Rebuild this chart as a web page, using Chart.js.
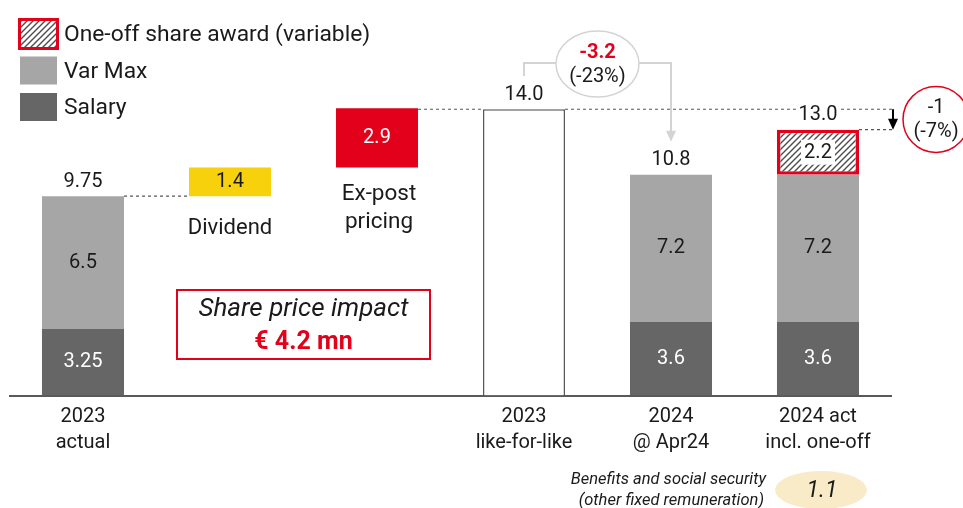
<!DOCTYPE html>
<html>
<head>
<meta charset="utf-8">
<script src="https://cdn.jsdelivr.net/npm/chart.js@4"></script>
<style>
  html, body { margin: 0; padding: 0; background: #fff; }
</style>
</head>
<body>
<canvas id="myChart" width="963" height="508"></canvas>
<script>
// categories on the x axis (bridge steps have no axis label)
const categories = [['2023', 'actual'], '', '', ['2023', 'like-for-like'], ['2024', '@ Apr24'], ['2024 act', 'incl. one-off']];
const salary = [3.25, null, null, null, 3.6, 3.6];
const varMax = [6.5, null, null, null, 7.2, 7.2];
const oneOff = [null, null, null, null, null, 2.2];
const dividend = 1.4;
const expostPricing = 2.9;
const likeForLike = 14.0;
const totals = [9.75, null, null, 14.0, 10.8, 13.0];
const bigDrop = ['-3.2', '(-23%)'];
const smallDrop = ['-1', '(-7%)'];
const sharePriceImpact = '€ 4.2 mn';
const benefits = 1.1;

const FONT = 'Roboto, "Noto Sans", sans-serif';
const RED = '#E2001A';
const DARK = '#666666';
const LIGHT = '#A6A6A6';
const YELLOW = '#F6D10C';
const INK = '#1a1a1a';

const ctx = document.getElementById('myChart').getContext('2d');

function makeHatch() {
    const c = document.createElement('canvas');
    c.width = 6; c.height = 6;
    const g = c.getContext('2d');
    g.fillStyle = '#fff';
    g.fillRect(0, 0, 6, 6);
    g.strokeStyle = '#4d4d4d';
    g.lineWidth = 1.4;
    g.beginPath();
    g.moveTo(0, 6); g.lineTo(6, 0);
    g.moveTo(-3, 3); g.lineTo(3, -3);
    g.moveTo(3, 9); g.lineTo(9, 3);
    g.stroke();
    return ctx.createPattern(c, 'repeat');
}
const hatch = makeHatch();

// floating steps: dividend, ex-post pricing, then the like-for-like total
const divTop = totals[0] + dividend;
const bridge = [null, [totals[0], divTop], [divTop, divTop + expostPricing], [0, likeForLike], null, null];

function text(c, str, x, y, font, color, align) {
    c.font = font;
    c.fillStyle = color;
    c.textAlign = align || 'center';
    c.textBaseline = 'middle';
    c.fillText(str, x, y);
}

function dashed(c, x1, x2, y) {
    c.save();
    c.strokeStyle = '#555';
    c.lineWidth = 1.2;
    c.setLineDash([3, 3]);
    c.beginPath();
    c.moveTo(x1, y); c.lineTo(x2, y);
    c.stroke();
    c.restore();
}

function bar(chart, ds, i) {
    return chart.getDatasetMeta(ds).data[i].getProps(['x', 'y', 'base', 'width'], true);
}

const labelsPlugin = {
    id: 'labels',
    afterDatasetsDraw(chart) {
        const c = chart.ctx;
        const x = chart.scales.x, y = chart.scales.y;
        const f = size => size + 'px ' + FONT;

        const o = bar(chart, 3, 5);
        const yLfl = y.getPixelForValue(likeForLike);
        const yAct = y.getPixelForValue(totals[5]);
        const arrowX = o.x + o.width / 2 + 34;
        const l = bar(chart, 0, 3);
        const e = bar(chart, 0, 2);

        // dashed connectors (under the labels)
        const b0 = bar(chart, 2, 0);
        const d = bar(chart, 0, 1);
        dashed(c, b0.x + b0.width / 2, d.x - d.width / 2, y.getPixelForValue(totals[0]));
        dashed(c, e.x + e.width / 2, l.x - l.width / 2, yLfl);
        dashed(c, l.x + l.width / 2, arrowX, yLfl);
        dashed(c, o.x + o.width / 2, arrowX, yAct);

        // totals above the stacks
        totals.forEach((t, i) => {
            if (t === null) return;
            const top = y.getPixelForValue(t);
            const px = x.getPixelForValue(i);
            if (i === 5) {
                c.fillStyle = '#fff';
                c.fillRect(px - 22, top - 25, 44, 20);
            }
            text(c, i === 0 ? '9.75' : t.toFixed(1), px, top - 14.5, f(20), INK);
        });

        // values inside segments
        [1, 2].forEach(ds => {
            const data = ds === 1 ? salary : varMax;
            data.forEach((v, i) => {
                if (v === null) return;
                const b = bar(chart, ds, i);
                text(c, String(v), b.x, (b.y + b.base) / 2, f(20), ds === 1 ? '#fff' : INK);
            });
        });

        // one-off label on white plate
        const oy = (o.y + o.base) / 2;
        c.fillStyle = '#fff';
        c.fillRect(o.x - 17, oy - 12.5, 34, 25);
        text(c, String(oneOff[5]), o.x, oy + 0.5, f(20), INK);

        // bridge boxes
        text(c, String(dividend), d.x, (d.y + d.base) / 2, f(20), INK);
        text(c, 'Dividend', d.x, d.base + 32, f(22), INK);
        text(c, String(expostPricing), e.x, (e.y + e.base) / 2, f(20), '#fff');
        text(c, 'Ex-post', e.x + 2, e.base + 27, f(22.5), INK);
        text(c, 'pricing', e.x + 2, e.base + 55, f(22.5), INK);
    },
    afterDraw(chart) {
        const c = chart.ctx;
        const x = chart.scales.x, y = chart.scales.y;
        const f = size => size + 'px ' + FONT;

        const o = bar(chart, 3, 5);
        const yLfl = y.getPixelForValue(likeForLike);
        const yAct = y.getPixelForValue(totals[5]);
        const arrowX = o.x + o.width / 2 + 34;

        // small black arrow
        c.save();
        c.strokeStyle = '#000';
        c.fillStyle = '#000';
        c.lineWidth = 2;
        c.beginPath();
        c.moveTo(arrowX, yLfl); c.lineTo(arrowX, yAct - 8);
        c.stroke();
        c.beginPath();
        c.moveTo(arrowX - 5, yAct - 11); c.lineTo(arrowX + 5, yAct - 11); c.lineTo(arrowX, yAct);
        c.closePath();
        c.fill();
        c.restore();

        // red circle with the small drop
        const cy = (yLfl + yAct) / 2;
        c.save();
        c.strokeStyle = RED;
        c.lineWidth = 1.5;
        c.fillStyle = '#fff';
        c.beginPath();
        c.arc(arrowX + 43, cy, 33, 0, Math.PI * 2);
        c.fill();
        c.stroke();
        c.restore();
        text(c, smallDrop[0], arrowX + 43, cy - 11, f(20), INK);
        text(c, smallDrop[1], arrowX + 43, cy + 13, f(20), INK);

        // grey bracket from like-for-like down to 2024
        const x3 = x.getPixelForValue(3), x4 = x.getPixelForValue(4);
        const ex = (x3 + x4) / 2, ey = 64;
        const tipY = y.getPixelForValue(totals[4]) - 33;
        c.save();
        c.strokeStyle = '#D4D4D4';
        c.fillStyle = '#D4D4D4';
        c.lineWidth = 2;
        c.beginPath();
        c.moveTo(x3, 76); c.lineTo(x3, 63); c.lineTo(ex - 40, 63);
        c.moveTo(ex + 40, 63); c.lineTo(x4, 63); c.lineTo(x4, tipY - 10);
        c.stroke();
        c.beginPath();
        c.moveTo(x4 - 5, tipY - 11); c.lineTo(x4 + 5, tipY - 11); c.lineTo(x4, tipY);
        c.closePath();
        c.fill();
        c.lineWidth = 1.5;
        c.fillStyle = '#fff';
        c.beginPath();
        c.ellipse(ex, ey, 41.5, 33, 0, 0, Math.PI * 2);
        c.fill();
        c.stroke();
        c.restore();
        text(c, bigDrop[0], ex, ey - 11, 'bold ' + f(20), RED);
        text(c, bigDrop[1], ex, ey + 13, f(20), INK);

        // share price impact box
        const sx = (x.getPixelForValue(1) + x.getPixelForValue(2)) / 2;
        c.save();
        c.strokeStyle = RED;
        c.lineWidth = 2;
        c.strokeRect(sx - 126.5, 290, 253, 69);
        c.restore();
        text(c, 'Share price impact', sx, 309, 'italic ' + f(26), INK);
        text(c, sharePriceImpact, sx, 343, 'bold ' + f(25), RED);

        // benefits note
        text(c, 'Benefits and social security', 766, 480, 'italic ' + f(16.5), INK, 'right');
        text(c, '(other fixed remuneration)', 764, 501, 'italic ' + f(16.5), INK, 'right');
        c.save();
        c.fillStyle = '#FAEBC8';
        c.beginPath();
        c.ellipse(821, 490, 46, 19, 0, 0, Math.PI * 2);
        c.fill();
        c.restore();
        text(c, benefits.toFixed(1), 822, 491, 'italic ' + f(23), INK);

        // legend
        const items = [
            { label: chart.data.datasets[3].label, fill: hatch, border: RED },
            { label: chart.data.datasets[2].label, fill: LIGHT },
            { label: chart.data.datasets[1].label, fill: DARK }
        ];
        items.forEach((it, k) => {
            const top = 20 + k * 36.5;
            c.fillStyle = it.fill;
            c.fillRect(20, top, 37, 28);
            if (it.border) {
                c.save();
                c.strokeStyle = it.border;
                c.lineWidth = 3;
                c.strokeRect(19.5, top - 0.5, 38, 29);
                c.restore();
            }
            text(c, it.label, 64, top + 15.5, f(22.8), INK, 'left');
        });
    }
};

const myChart = new Chart(ctx, {
    type: 'bar',
    data: {
        labels: categories,
        datasets: [
            {
                label: 'Bridge',
                data: bridge,
                backgroundColor: ['#fff', YELLOW, RED, '#fff', '#fff', '#fff'],
                borderColor: ['#fff', YELLOW, RED, '#595959', '#fff', '#fff'],
                borderWidth: [0, 0, 0, 1.5, 0, 0],
                borderSkipped: 'bottom'
            },
            { label: 'Salary', data: salary, backgroundColor: DARK },
            { label: 'Var Max', data: varMax, backgroundColor: LIGHT },
            {
                label: 'One-off share award (variable)',
                data: oneOff,
                backgroundColor: hatch,
                borderColor: RED,
                borderWidth: 3.5,
                borderSkipped: false
            }
        ]
    },
    options: {
        responsive: false,
        animation: false,
        layout: { padding: { left: 9.5, right: 71.5, top: 7, bottom: 0 } },
        datasets: { bar: { categoryPercentage: 1, barPercentage: 0.558 } },
        plugins: { legend: { display: false }, tooltip: { enabled: false } },
        scales: {
            x: {
                stacked: true,
                grid: { display: false, drawTicks: false },
                border: { display: true, color: '#595959', width: 2 },
                ticks: {
                    font: { family: FONT, size: 20, lineHeight: 1.3 },
                    color: INK,
                    padding: 8,
                    maxRotation: 0,
                    autoSkip: false
                },
                afterFit: s => { s.height = 112.5; }
            },
            y: { stacked: true, display: false, min: 0, max: 19 }
        }
    },
    plugins: [labelsPlugin]
});
</script>
</body>
</html>
